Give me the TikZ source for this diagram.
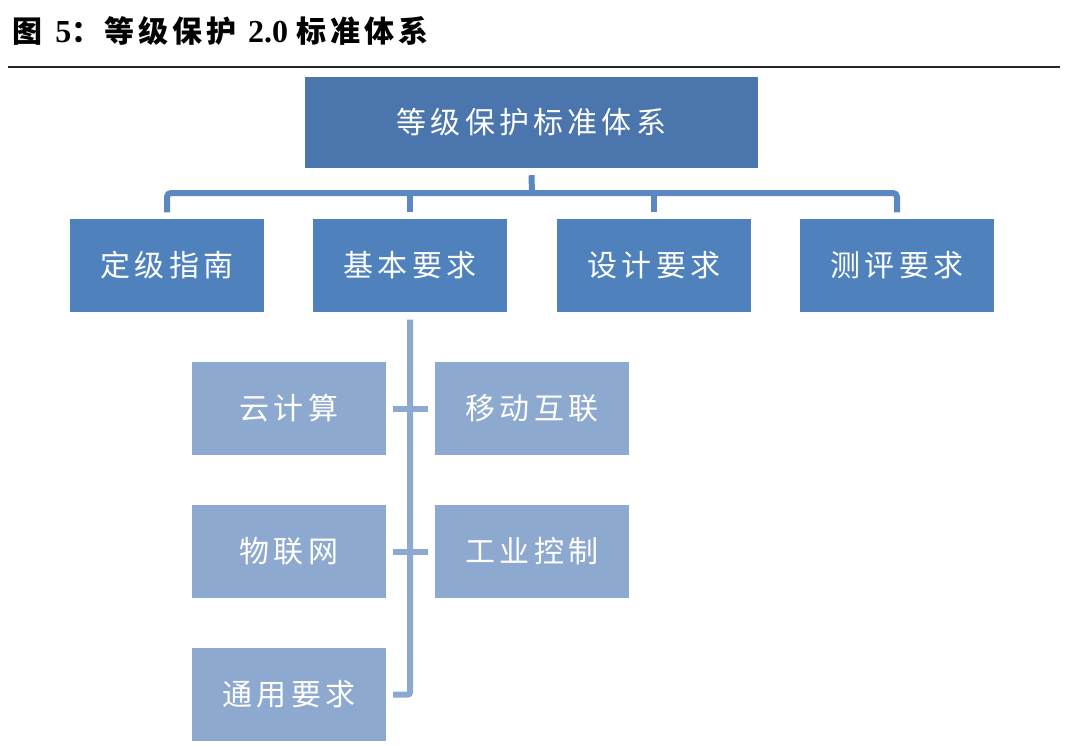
\documentclass[tikz,border=0pt]{standalone}
\usepackage{fontspec}
\setmainfont{Liberation Serif}
\newfontfamily\cjk[LetterSpace=14]{Noto Sans CJK SC}
\newfontfamily\cjkt[LetterSpace=14]{Noto Sans CJK SC}
\definecolor{topc}{HTML}{4A75AD}
\definecolor{midc}{HTML}{4F81BD}
\definecolor{lowc}{HTML}{8EA9D0}
\definecolor{connup}{HTML}{5B87C2}
\definecolor{connlow}{HTML}{8EA9D0}
\tikzset{
  box/.style={draw=none, minimum width=194pt, minimum height=93pt, inner sep=0pt,
    text=white, font=\cjk\fontsize{30}{30}\selectfont},
  topbox/.style={box, fill=topc, minimum width=453pt, minimum height=91pt},
  midbox/.style={box, fill=midc},
  lowbox/.style={box, fill=lowc},
  connu/.style={draw=connup, line width=6pt},
  connl/.style={draw=connlow, line width=6pt},
}
\begin{document}
\begin{tikzpicture}[x=1pt, y=-1pt]
\useasboundingbox (0,0) rectangle (1080,747);
\fill[white] (0,0) rectangle (1080,747);
% title
\node[anchor=west, inner sep=0pt] (title) at (12,31)
  {\fontsize{30}{30}\selectfont{\cjkt\bfseries 图}\hspace{9pt}{\fontsize{32}{32}\selectfont\textbf{5}}{\cjkt\bfseries ：}\hspace{3pt}{\cjkt\bfseries 等级保护}\hspace{7pt}{\fontsize{32}{32}\selectfont\textbf{2.0}}\hspace{8pt}{\cjkt\bfseries 标准体系}};
\coordinate (rl) at (8,67);
\coordinate (rr) at (1060,67);
\draw[line width=2.2pt, black!85] (rl) -- (rr);
% top
\node[topbox] (top) at (531.5,122.5) {等级保护标准体系};
% row 2
\node[midbox] (n1) at (167,265) {定级指南};
\node[midbox] (n2) at (410,265) {基本要求};
\node[midbox] (n3) at (654,265) {设计要求};
\node[midbox] (n4) at (897,265) {测评要求};
% lower
\node[lowbox] (a1) at (289,408.5) {云计算};
\node[lowbox] (a2) at (532,408.5) {移动互联};
\node[lowbox] (b1) at (289,551.5) {物联网};
\node[lowbox] (b2) at (532,551.5) {工业控制};
\node[lowbox] (c1) at (289,694.5) {通用要求};
% upper connectors
\coordinate (hb) at (532,193);
\draw[connu] ([yshift=-7pt]top.south) -- (hb);
\draw[connu, rounded corners=4pt] ([yshift=6pt]n1.north) |- (hb) -| ([yshift=6pt]n4.north);
\draw[connu] ([yshift=6pt]n2.north) -- (n2.north |- hb);
\draw[connu] ([yshift=6pt]n3.north) -- (n3.north |- hb);
% lower connectors
\draw[connl, rounded corners=2pt] ([yshift=-8pt]n2.south) |- ([xshift=7pt]c1.east);
\draw[connl] ([xshift=7pt]a1.east) -- ([xshift=-7pt]a2.west);
\draw[connl] ([xshift=7pt]b1.east) -- ([xshift=-7pt]b2.west);
\end{tikzpicture}
\end{document}
